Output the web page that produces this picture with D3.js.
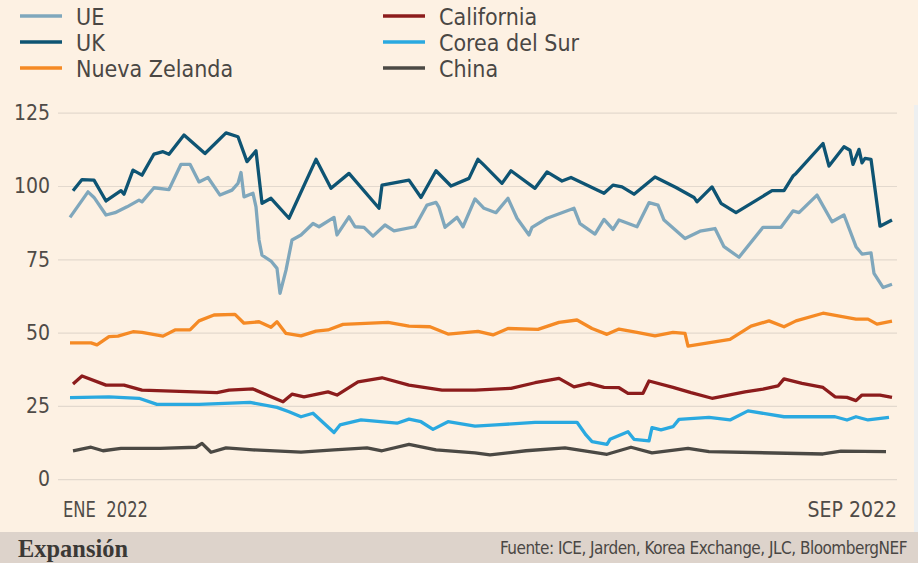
<!DOCTYPE html>
<meta charset="utf-8">
<head>
    <script src="https://d3js.org/d3.v7.min.js"></script>
    <style>
        body { margin: 0; background: #fdf1e3; }
        .narrow { font-family: "Liberation Sans Narrow", "DejaVu Sans Condensed", "Roboto Condensed", sans-serif; }
    </style>
</head>
<body>
<div id="chart"></div>

<script>
    // x = day of year 2022, y = price
    const seriesNames = ["UE", "UK", "Nueva Zelanda", "California", "Corea del Sur", "China"]
    const yTicks = [0, 25, 50, 75, 100, 125]
    const xLabels = ["ENE\u00a0 2022", "SEP 2022"]
    const source = "Fuente: ICE, Jarden, Korea Exchange, JLC, BloombergNEF"
    const brand = "Expansión"

    const ue = [[1,89.3],[7,98],[9,96.1],[13,90.1],[16,90.9],[20,92.9],[24,95.2],[25,94.6],[29,99.4],[34,98.8],
        [38,107.4],[41,107.4],[44,101.4],[47,102.9],[51,96.9],[55,98.6],[57,100.9],[58,104.6],[59,96.3],[62,97.5],
        [63,92.9],[64,81.6],[65,76.4],[68,74.4],[70,71.9],[71,63.4],[73,71.3],[75,81.6],[78,83.3],[82,87.2],
        [84,86.1],[89,89.3],[90,83.3],[94,89.5],[96,86.1],[99,85.9],[102,82.9],[106,86.7],[109,84.7],[116,86.1],
        [120,93.5],[123,94.4],[124,92.7],[126,85.9],[130,89.3],[132,86.1],[136,95.6],[139,92.4],[143,90.9],[147,95.8],
        [150,89],[154,83.3],[155,85.9],[160,89],[169,92.4],[171,87.2],[176,83.6],[179,88.6],[182,85.2],[184,88.4],
        [190,86.1],[194,94.3],[197,93.5],[199,88.4],[206,82.1],[211,84.6],[216,85.5],[219,79.3],[224,75.7],[232,85.9],
        [238,85.9],[242,91.5],[244,90.9],[250,96.9],[255,87.8],[259,90.1],[263,79.3],[265,76.8],[268,77.2],[269,70.2],
        [272,65.4],[275,66.5]]

    const uk = [[2,98.4],[5,102.2],[9,102],[13,94.9],[18,98.4],[19,97.2],[22,105.4],[25,103.7],[29,110.9],[32,111.7],
        [34,110.8],[39,117.4],[46,111.1],[53,118.1],[57,116.8],[60,108.3],[63,112],[65,94.1],[68,95.8],[74,89],
        [83,109.1],[88,99.2],[94,104.3],[104,92.4],[105,100.3],[114,102],[118,96.1],[123,105.2],[128,100],[134,102.6],
        [137,109.1],[139,107.1],[145,100.9],[148,105.2],[156,99.2],[160,104.8],[165,101.7],[168,102.9],[179,97.5],[182,100.3],
        [185,99.7],[189,97.2],[196,103.1],[203,99.5],[209,96.1],[210,94.6],[215,99.7],[218,94.1],[223,90.9],[235,98.4],
        [239,98.4],[242,103.4],[243,104.3],[252,114.5],[254,106.8],[259,113.4],[261,112.2],[262,107.4],[264,112.5],[265,107.9],
        [266,109.4],[268,109.1],[271,86.3],[275,88.4]]

    const nz = [[1,46.5],[8,46.5],[10,45.8],[14,48.6],[17,48.8],[22,50.3],[25,50.1],[32,48.8],[36,50.9],[41,50.9],
        [44,54],[49,56],[56,56.2],[59,53.2],[64,53.7],[68,51.8],[70,53.7],[73,49.7],[78,48.9],[83,50.5],
        [87,50.9],[92,52.8],[107,53.5],[114,52.2],[121,52],[127,49.5],[137,50.4],[142,49.2],[147,51.4],[157,51.1],
        [164,53.5],[170,54.3],[175,51.4],[180,49.4],[184,51.2],[190,50.1],[196,48.9],[202,50.1],[206,49.7],[207,45.4],
        [221,47.7],[228,52.2],[234,54],[239,52],[243,54],[252,56.6],[263,54.6],[267,54.6],[270,52.9],[275,53.9]]

    const california = [[2,32.5],[5,35.2],[13,32.1],[19,32.1],[25,30.4],[50,29.5],[54,30.4],[62,30.8],[68,28.1],[72,26.4],
        [75,29],[79,28.1],[87,29.8],[90,28.7],[97,33.2],[105,34.6],[114,32.1],[125,30.4],[136,30.4],[148,31],
        [156,32.9],[164,34.4],[169,31.5],[174,32.7],[179,31.3],[184,31.2],[187,29.3],[192,29.3],[194,33.5],[202,31.3],
        [208,29.5],[215,27.6],[226,29.8],[232,30.7],[237,31.8],[239,34.2],[245,32.7],[252,31.3],[256,28.1],[260,27.9],
        [263,26.8],[265,28.7],[271,28.7],[275,27.9]]

    const korea = [[1,27.8],[14,28.1],[24,27.6],[30,25.5],[44,25.5],[61,26.2],[70,24.5],[74,23],[78,21.3],[82,22.5],
        [89,15.9],[91,18.5],[98,20.2],[110,19.1],[114,20.5],[118,19.6],[122,17],[127,19.6],[136,18.1],[143,18.5],
        [156,19.4],[170,19.4],[173,15.1],[175,12.8],[180,11.9],[181,13.6],[187,16.2],[189,13.6],[194,13.1],[195,17.6],
        [198,16.8],[202,17.9],[204,20.4],[214,21.1],[221,20.2],[227,23.3],[239,21.3],[256,21.3],[260,20.2],[263,21.3],
        [267,20.2],[274,21.1]]

    const china = [[2,9.7],[8,10.9],[12,9.7],[18,10.5],[31,10.5],[43,10.9],[45,12.2],[48,9.2],[53,10.7],[62,10],
        [78,9.2],[89,10],[100,10.7],[105,9.7],[114,11.9],[123,10],[136,9],[141,8.3],[153,9.7],[166,10.7],
        [180,8.5],[188,10.9],[195,9],[207,10.5],[214,9.4],[252,8.6],[258,9.6],[273,9.4]]

    const seriesData = [ue, uk, nz, california, korea, china]
    const colors = ["#7fa7bc", "#0e5473", "#f58a25", "#8c1c1c", "#2aa9e0", "#4b4944"]

    const width = 918, height = 563

    const svg = d3.select("#chart").append("svg")
        .attr("width", width)
        .attr("height", height)

    svg.append("rect")
        .attr("width", width)
        .attr("height", height)
        .attr("fill", "#fdf1e3")

    const x = d3.scaleLinear()
        .domain([1, 275])
        .range([70, 892])

    const y = d3.scaleLinear()
        .domain([0, 125])
        .range([479.2, 112.7])

    // gridlines + y labels
    const leftAxis = d3.axisLeft(y)
        .tickValues(yTicks)
        .tickSize(-839)
        .tickPadding(8)
    const yAxis = svg.append("g")
        .attr("transform", "translate(58,0)")
        .call(leftAxis)
    yAxis.select(".domain").remove()
    yAxis.selectAll("line").attr("stroke", "#e3d9ce").attr("stroke-width", 1.2)
    yAxis.selectAll("text")
        .attr("class", "narrow")
        .attr("fill", "#4f4b47")
        .style("font-size", "21px")

    // x labels
    svg.append("text")
        .attr("class", "narrow")
        .attr("x", 63)
        .attr("y", 517)
        .attr("fill", "#4f4b47")
        .attr("textLength", 85)
        .attr("lengthAdjust", "spacingAndGlyphs")
        .style("font-size", "21px")
        .text(xLabels[0])
    svg.append("text")
        .attr("class", "narrow")
        .attr("x", 897)
        .attr("y", 517)
        .attr("text-anchor", "end")
        .attr("fill", "#4f4b47")
        .style("font-size", "21px")
        .text(xLabels[1])

    const line = d3.line()
        .x(d => x(d[0]))
        .y(d => y(d[1]))

    // draw bottom ones first so UK ends on top
    const order = [5, 4, 3, 2, 0, 1]
    order.forEach(i => {
        svg.append("path")
            .datum(seriesData[i])
            .attr("fill", "none")
            .attr("stroke", colors[i])
            .attr("stroke-width", 3.3)
            .attr("stroke-linejoin", "round")
            .attr("d", line)
    })

    // legend
    const legend = svg.append("g")
    seriesNames.forEach((name, i) => {
        const col = i < 3 ? 0 : 1
        const row = i % 3
        const lx = col === 0 ? 20 : 383
        const ly = 16 + row * 26
        legend.append("line")
            .attr("x1", lx).attr("x2", lx + 42)
            .attr("y1", ly).attr("y2", ly)
            .attr("stroke", colors[i])
            .attr("stroke-width", 3.5)
        legend.append("text")
            .attr("class", "narrow")
            .attr("x", lx + 56)
            .attr("y", ly + 8.5)
            .attr("fill", "#4a4744")
            .style("font-size", "23px")
            .text(name)
    })

    // footer band
    svg.append("rect")
        .attr("x", 0).attr("y", 532)
        .attr("width", width).attr("height", height - 532)
        .attr("fill", "#ddd3cb")
    svg.append("rect")
        .attr("x", 914).attr("y", 105)
        .attr("width", 4).attr("height", 427)
        .attr("fill", "#edeff0")

    svg.append("text")
        .attr("x", 18)
        .attr("y", 557)
        .attr("fill", "#3b3936")
        .attr("textLength", 110)
        .attr("lengthAdjust", "spacingAndGlyphs")
        .style("font-family", "'Liberation Serif', 'DejaVu Serif', serif")
        .style("font-weight", "bold")
        .style("font-size", "26px")
        .text(brand)

    svg.append("text")
        .attr("class", "narrow")
        .attr("x", 907)
        .attr("y", 554)
        .attr("text-anchor", "end")
        .attr("fill", "#4a4744")
        .style("font-size", "17px")
        .style("letter-spacing", "-0.5px")
        .text(source)
</script>
</body>
